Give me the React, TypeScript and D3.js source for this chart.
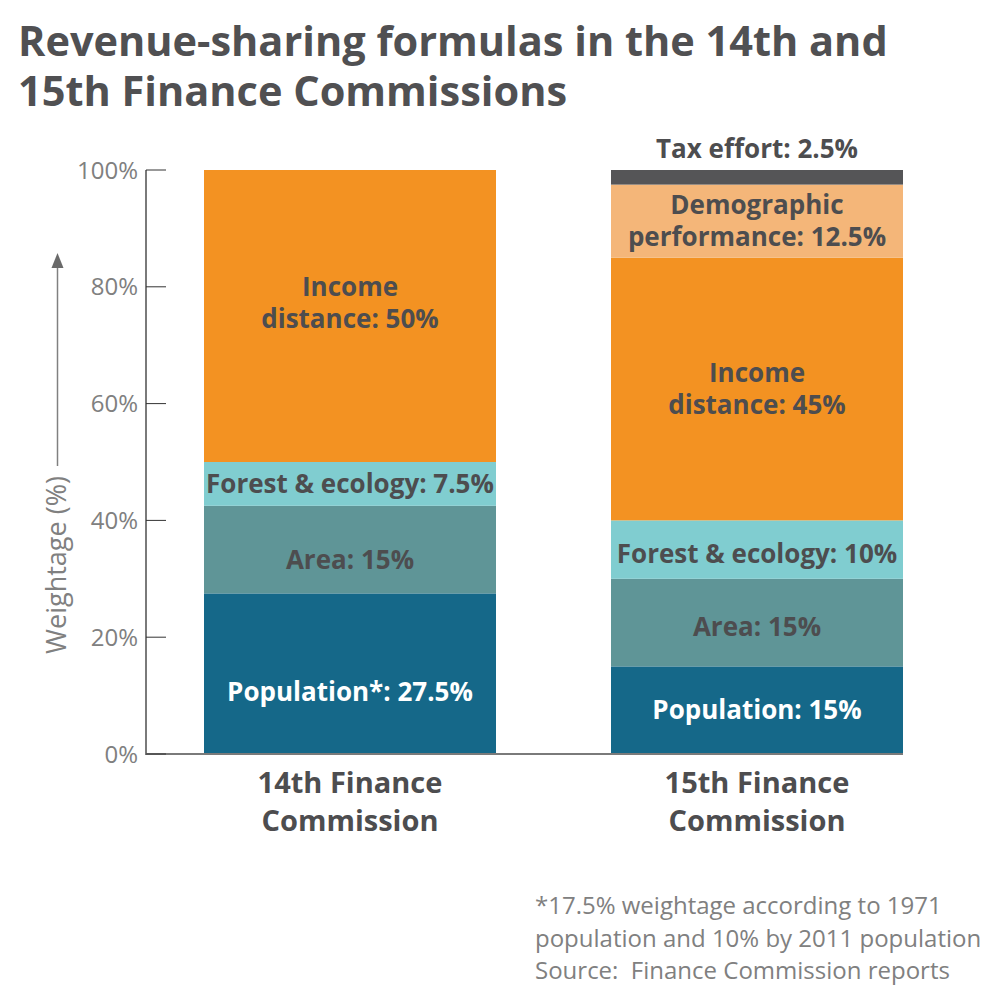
import React from "react";
import * as d3 from "d3";

const commissions = ["14th Finance Commission", "15th Finance Commission"];
const categoryLines = [["14th Finance", "Commission"], ["15th Finance", "Commission"]];
const segmentNames = ["Population", "Area", "Forest & ecology", "Income distance", "Demographic performance", "Tax effort"];
const values14 = [27.5, 15, 7.5, 50, 0, 0];
const values15 = [15, 15, 10, 45, 12.5, 2.5];
const labels14 = [["Population*: 27.5%"], ["Area: 15%"], ["Forest & ecology: 7.5%"], ["Income", "distance: 50%"], [], []];
const labels15 = [["Population: 15%"], ["Area: 15%"], ["Forest & ecology: 10%"], ["Income", "distance: 45%"], ["Demographic", "performance: 12.5%"], []];
const outsideLabel15 = "Tax effort: 2.5%";
const yTicks = [0, 20, 40, 60, 80, 100];
const titleLines = ["Revenue-sharing formulas in the 14th and", "15th Finance Commissions"];
const footnoteLines = [
  "*17.5% weightage according to 1971",
  "population and 10% by 2011 population",
  "Source:  Finance Commission reports",
];

const colors = ["#156889", "#5f9597", "#80cdd0", "#f39222", "#f4b679", "#555557"];
const labelColors = ["#ffffff", "#4d4d4f", "#4d4d4f", "#4d4d4f", "#4d4d4f", "#4d4d4f"];
// small vertical nudges for labels (layout only)
const labelNudge = [[18, 10, 0, -13, 0, 0], [0, 4, 4, 0, 0, 0]];

export default function App() {
  const font = "'Open Sans', 'Noto Sans', sans-serif";
  const y = d3.scaleLinear().domain([0, 100]).range([754, 170]);
  const xb = d3
    .scaleBand()
    .domain(commissions)
    .range([204 - 57.5, 903 + 57.5])
    .paddingInner(115 / 407)
    .paddingOuter(57.5 / 407);
  const allValues = [values14, values15];
  const allLabels = [labels14, labels15];
  const stackData = commissions.map((c, i) => {
    const o: any = { c };
    segmentNames.forEach((s, j) => (o[s] = allValues[i][j]));
    return o;
  });
  const series = d3.stack<any>().keys(segmentNames)(stackData);

  return (
    <svg width={1000} height={998} style={{ display: "block", position: "absolute", left: 0, top: 0 }}>
      <rect width={1000} height={998} fill="#ffffff" />
      {titleLines.map((t, i) => (
        <text key={i} x={18} y={56 + i * 50} fontFamily={font} fontWeight={700} fontSize={41.5} fill="#505052">
          {t}
        </text>
      ))}
      {/* bars */}
      {series.map((s, j) =>
        s.map((d, i) => {
          const c = commissions[i];
          const h = y(d[0]) - y(d[1]);
          if (h <= 0) return null;
          return <rect key={`${j}-${i}`} x={xb(c)} y={y(d[1])} width={xb.bandwidth()} height={h} fill={colors[j]} />;
        })
      )}
      {/* segment labels */}
      {series.map((s, j) =>
        s.map((d, i) => {
          const lines = allLabels[i][j];
          if (!lines || lines.length === 0) return null;
          const cx = (xb(commissions[i]) as number) + xb.bandwidth() / 2;
          const cy = (y(d[0]) + y(d[1])) / 2 + labelNudge[i][j];
          const lh = 32.5;
          const startY = cy - ((lines.length - 1) * lh) / 2 + 9;
          return (
            <text key={`l${j}-${i}`} x={cx} textAnchor="middle" fontFamily={font} fontWeight={700} fontSize={26} fill={labelColors[j]}>
              {lines.map((ln, k) => (
                <tspan key={k} x={cx} y={startY + k * lh}>
                  {ln}
                </tspan>
              ))}
            </text>
          );
        })
      )}
      <text
        x={(xb(commissions[1]) as number) + xb.bandwidth() / 2}
        y={158}
        textAnchor="middle"
        fontFamily={font}
        fontWeight={700}
        fontSize={26}
        fill="#4d4d4f"
      >
        {outsideLabel15}
      </text>
      {/* axes */}
      <line x1={146} x2={146} y1={y(100)} y2={y(0) + 1} stroke="#7a7a7a" strokeWidth={2} />
      <line x1={145} x2={(xb(commissions[1]) as number) + xb.bandwidth()} y1={y(0)} y2={y(0)} stroke="#7a7a7a" strokeWidth={2} />
      {yTicks.map((t) => (
        <g key={t}>
          <line x1={146} x2={166} y1={y(t)} y2={y(t)} stroke="#333" strokeWidth={1} />
          <text x={138} y={y(t)} dy="0.36em" textAnchor="end" fontFamily={font} fontSize={24} fill="#808080">
            {t}%
          </text>
        </g>
      ))}
      {/* y axis title with arrow */}
      <line x1={57.5} x2={57.5} y1={466} y2={262} stroke="#808080" strokeWidth={1.5} />
      <path d="M51.5,268 L57.5,253 L63.5,268 Z" fill="#6a6a6a" />
      <text transform="translate(66,565) rotate(-90)" textAnchor="middle" fontFamily={font} fontSize={27} fill="#808080">
        Weightage (%)
      </text>
      {/* category labels */}
      {commissions.map((c, i) => {
        const cx = (xb(c) as number) + xb.bandwidth() / 2;
        return (
          <text key={c} textAnchor="middle" fontFamily={font} fontWeight={700} fontSize={29} fill="#4d4d4f">
            {categoryLines[i].map((ln, k) => (
              <tspan key={k} x={cx} y={793 + k * 38}>
                {ln}
              </tspan>
            ))}
          </text>
        );
      })}
      {/* footnote */}
      {footnoteLines.map((t, i) => (
        <text key={i} x={535} y={914 + i * 32.5} fontFamily={font} fontSize={24} fill="#808080" style={{ whiteSpace: "pre" }}>
          {t}
        </text>
      ))}
    </svg>
  );
}
